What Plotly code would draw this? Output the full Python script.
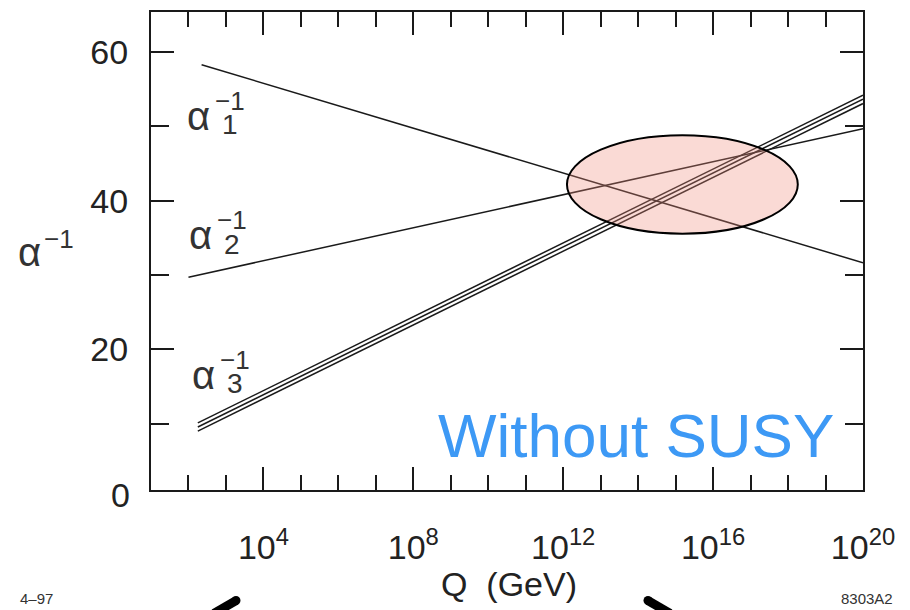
import plotly.graph_objects as go

# Inverse gauge couplings vs. log10(Q / GeV), Standard Model running (no SUSY)
logq_a1 = [2.35, 20.0]
alpha1_inv = [58.3, 31.65]

logq_a2 = [2.0, 20.0]
alpha2_inv = [29.7, 49.7]

logq_a3 = [2.25, 20.0]
alpha3_inv_hi = [10.1, 54.2]
alpha3_inv_mid = [9.55, 53.67]
alpha3_inv_lo = [9.0, 53.08]

# Near-miss unification region (log10 Q centre/half-width, alpha^-1 centre/half-height)
ell_logq = [15.18, 3.08]
ell_ainv = [42.19, 6.63]

x_major = [4, 8, 12, 16, 20]
x_major_text = ["10<sup>4</sup>", "10<sup>8</sup>", "10<sup>12</sup>",
                "10<sup>16</sup>", "10<sup>20</sup>"]
x_minor = [2, 3, 5, 6, 7, 9, 10, 11, 13, 14, 15, 17, 18, 19]
y_major = [20, 40, 60]
y_minor = [10, 30, 50]

LINE = "#1a1a1a"
FONT = "Liberation Sans, Arial, Helvetica, sans-serif"
NARROW = "Liberation Sans Narrow, " + FONT

# plot area in page pixels: left 151, right 863, top 10, bottom 490
def px(xp):
    return (xp - 151) / 712

def py(yp):
    return (490 - yp) / 480

fig = go.Figure()

def add_line(x, y):
    fig.add_trace(go.Scatter(x=x, y=y, mode="lines",
                             line=dict(color=LINE, width=1.5),
                             showlegend=False, hoverinfo="skip"))

add_line(logq_a1, alpha1_inv)
add_line(logq_a2, alpha2_inv)
add_line(logq_a3, alpha3_inv_hi)
add_line(logq_a3, alpha3_inv_mid)
add_line(logq_a3, alpha3_inv_lo)

fig.add_shape(type="circle", xref="x", yref="y", layer="above",
              x0=ell_logq[0] - ell_logq[1], x1=ell_logq[0] + ell_logq[1],
              y0=ell_ainv[0] - ell_ainv[1], y1=ell_ainv[0] + ell_ainv[1],
              fillcolor="rgba(240,140,125,0.32)",
              line=dict(color="black", width=2))

annotations = []

def alpha_label(x, y, sub):
    annotations.append(dict(x=x, y=y, xref="x", yref="y", text="α",
                            showarrow=False, font=dict(size=40, color="#333", family=FONT),
                            xanchor="center", yanchor="middle"))
    annotations.append(dict(x=x, y=y, xref="x", yref="y", text="−1",
                            showarrow=False, font=dict(size=26, color="#333", family=FONT),
                            xanchor="left", yanchor="middle", xshift=14, yshift=15))
    annotations.append(dict(x=x, y=y, xref="x", yref="y", text=sub,
                            showarrow=False, font=dict(size=28, color="#333", family=FONT),
                            xanchor="left", yanchor="middle", xshift=21, yshift=-9))

alpha_label(2.28, 51.43, "1")
alpha_label(2.33, 35.36, "2")
alpha_label(2.41, 16.6, "3")

# y-axis title
annotations.append(dict(x=px(29), y=py(251), xref="paper", yref="paper",
                        text="α", showarrow=False, xanchor="center", yanchor="middle",
                        font=dict(size=40, color="#333", family=FONT)))
annotations.append(dict(x=px(42), y=py(238), xref="paper", yref="paper",
                        text="−1", showarrow=False, xanchor="left", yanchor="middle",
                        font=dict(size=26, color="#333", family=FONT)))

# zero label on the y axis
annotations.append(dict(x=px(132), y=py(495), xref="paper", yref="paper",
                        text="0", showarrow=False, xanchor="right", yanchor="middle",
                        font=dict(size=34, color="#222", family=FONT)))

annotations.append(dict(x=px(636), y=py(435), xref="paper", yref="paper",
                        text="Without SUSY", showarrow=False,
                        xanchor="center", yanchor="middle",
                        font=dict(size=62, color="#3d99f5", family=FONT)))

annotations.append(dict(x=px(509), y=py(584), xref="paper", yref="paper",
                        text="Q  (GeV)", showarrow=False,
                        xanchor="center", yanchor="middle",
                        font=dict(size=34, color="#222", family=FONT)))

annotations.append(dict(x=px(18), y=py(599), xref="paper", yref="paper",
                        text="4–97", showarrow=False, xanchor="left", yanchor="middle",
                        font=dict(size=15, color="#333", family=NARROW)))
annotations.append(dict(x=px(895), y=py(599), xref="paper", yref="paper",
                        text="8303A2", showarrow=False, xanchor="right", yanchor="middle",
                        font=dict(size=15, color="#333", family=NARROW)))

# partial bracket strokes at the foot of the page
for (xa, ya, xb, yb) in [(214, 614, 236, 601), (648, 601, 670, 614)]:
    fig.add_shape(type="line", xref="paper", yref="paper",
                  x0=px(xa), y0=py(ya), x1=px(xb), y1=py(yb),
                  line=dict(color="black", width=9))
for (xc, yc) in [(236, 601), (648, 601)]:
    fig.add_shape(type="circle", xref="paper", yref="paper",
                  x0=px(xc - 4.5), x1=px(xc + 4.5), y0=py(yc + 4.5), y1=py(yc - 4.5),
                  fillcolor="black", line=dict(width=0))

fig.update_layout(
    width=910, height=610,
    margin=dict(l=151, r=47, t=10, b=120),
    paper_bgcolor="white", plot_bgcolor="white",
    annotations=annotations,
    font=dict(family=FONT, size=34, color="#222"),
    xaxis=dict(range=[1, 20], tickmode="array", tickvals=x_major, ticktext=x_major_text,
               ticks="inside", ticklen=23, tickwidth=2, tickcolor=LINE,
               showline=True, linecolor=LINE, linewidth=2, mirror="ticks",
               showgrid=False, zeroline=False, ticklabelstandoff=26,
               tickfont=dict(size=34, color="#222", family=FONT),
               minor=dict(tickmode="array", tickvals=x_minor, ticks="inside",
                          ticklen=15, tickwidth=2, tickcolor=LINE, showgrid=False)),
    yaxis=dict(range=[1.07, 65.4], tickmode="array", tickvals=y_major,
               ticks="inside", ticklen=23, tickwidth=2, tickcolor=LINE,
               showline=True, linecolor=LINE, linewidth=2, mirror="ticks",
               showgrid=False, zeroline=False, ticklabelstandoff=14,
               tickfont=dict(size=34, color="#222", family=FONT),
               minor=dict(tickmode="array", tickvals=y_minor, ticks="inside",
                          ticklen=18, tickwidth=2, tickcolor=LINE, showgrid=False)),
)

fig.write_html("out.html")
